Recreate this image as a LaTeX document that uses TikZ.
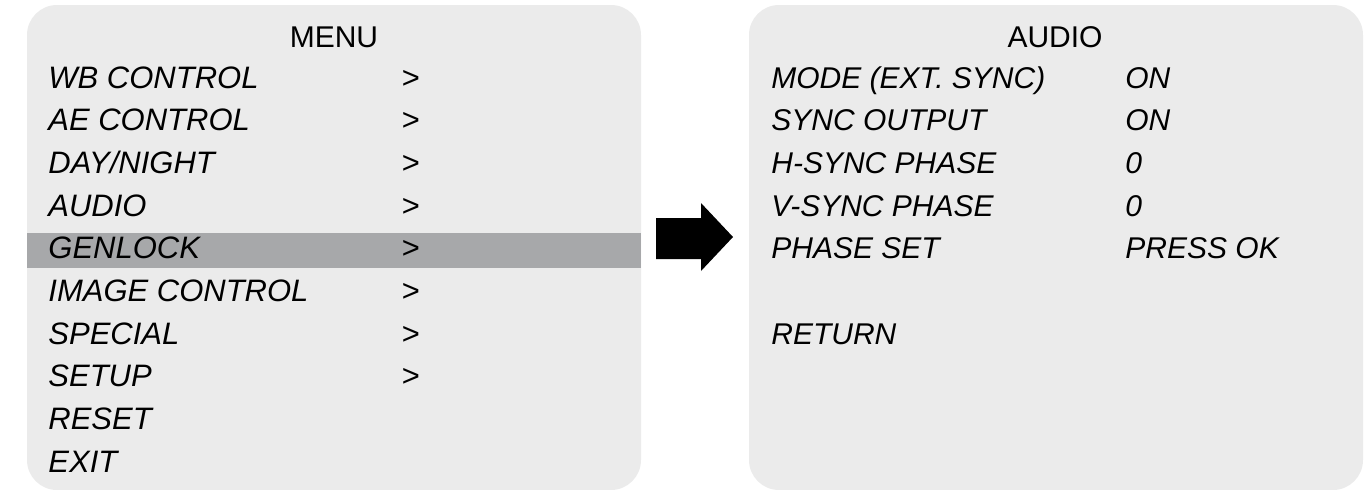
\documentclass[tikz,border=0pt]{standalone}
\usepackage{fontspec}
\setmainfont{Liberation Sans}
\usetikzlibrary{positioning,calc}

\definecolor{panelgrey}{HTML}{EBEBEB}
\definecolor{bargrey}{HTML}{A7A8AA}

\begin{document}
\begin{tikzpicture}[
    %---- one unit = one pixel of the screen grab, y downwards ----
    x=0.5pt, y=-0.5pt,
    font=\fontsize{15}{18}\selectfont,
    panel/.style = {fill=panelgrey, rounded corners=15pt},
    title/.style = {anchor=base, inner sep=0pt},
    item/.style  = {anchor=base west, inner sep=0pt,
                    font=\fontsize{15}{18}\selectfont\itshape},
    bigitem/.style = {item, font=\fontsize{15.5}{18}\selectfont\itshape},
]
\useasboundingbox (0,0) rectangle (1367,489);

%---- PANELS ----
\fill[panel] (27,5) rectangle (641,490);
\fill[panel] (749,5) rectangle (1363,490);
\fill[bargrey] (27,233) rectangle (641,268);   % selected line

%---- MAIN MENU ----
\node (menutitle) [title] at (334,47) {MENU};
\foreach \lbl [count=\i] in {WB CONTROL, AE CONTROL, DAY/NIGHT, AUDIO,
                            GENLOCK, IMAGE CONTROL, SPECIAL, SETUP, RESET, EXIT}{
  \pgfmathsetmacro\yy{88+42.67*(\i-1)}
  \node (m\i) [bigitem] at (48,\yy) {\lbl};
}
\foreach \i in {1,...,8}{
  \pgfmathsetmacro\yy{88+42.67*(\i-1)}
  \node (go\i) [bigitem] at (401,\yy) {>};
}

%---- ARROW ----
\fill[black] (656,218) -- (701,218) -- (701,203) -- (733,237)
             -- (701,271) -- (701,259) -- (656,259) -- cycle;

%---- SUB MENU ----
\node (subtitle) [title] at (1055,47) {AUDIO};
\foreach \lbl/\val [count=\i] in {MODE (EXT. SYNC)/ON, SYNC OUTPUT/ON,
                                 H-SYNC PHASE/0, V-SYNC PHASE/0, PHASE SET/PRESS OK}{
  \pgfmathsetmacro\yy{88+42.67*(\i-1)}
  \node (s\i) [item] at (771,\yy) {\lbl};
  \node (v\i) [item] at (1125,\yy) {\val};
}
\node (ret) [item] at (771,344) {RETURN};
\end{tikzpicture}
\end{document}
